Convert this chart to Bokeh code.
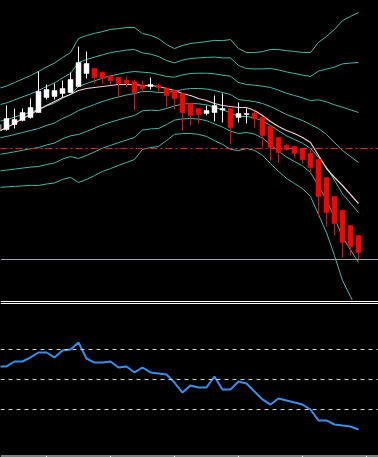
from bokeh.plotting import figure
from bokeh.layouts import column
from bokeh.models import Range1d, Span, ColumnDataSource
from bokeh.embed import file_html
from bokeh.resources import INLINE

# ---------------- data ----------------
idx = list(range(-1, 45))
open_ = [170, 171, 176, 180, 183, 188, 203, 204, 207, 208, 214, 227, 232, 228, 224, 223, 220, 219,
         215, 214, 215, 212, 210, 207, 197, 192, 187, 188, 190.5, 192, 183, 186, 187, 183, 174, 163,
         155, 154, 152, 147, 141, 123, 104, 90, 75, 65]
high = [180, 195, 192, 192, 202, 229, 216, 217, 220, 228, 254, 249, 232, 229, 225, 224, 224, 221,
        220, 223, 217, 213, 210, 207, 197, 192, 195, 205, 207, 192, 198, 192, 190, 184, 174, 163,
        157, 154, 152, 151, 141, 123, 104, 90, 75, 65]
low = [168, 170, 172, 179, 182, 188, 201, 201, 203, 208, 214, 222, 217, 216, 216, 203, 213, 190,
       208, 211, 208, 193, 191, 170, 175, 177, 185, 179, 178, 157, 178, 177, 173, 153, 140, 138,
       150, 143, 137, 127, 84, 74, 65, 43, 45, 40]
close = [176, 182, 181, 188, 193, 209, 211, 210, 212, 221, 238, 237, 223, 222, 220, 217, 217, 208,
         212, 216, 213, 205, 202, 188, 185, 186, 190, 195, 192, 173, 187, 187, 182, 165, 153, 148,
         151, 147, 141, 133, 104, 88, 77, 58, 54, 48]
ma_fast = [169, 173, 177, 182, 186, 191, 195, 199, 203, 206, 210, 212, 213, 214, 215, 216, 216, 216,
           215, 215, 214, 212, 210, 207, 205, 202, 200, 197, 195, 194, 193, 193, 190, 185, 179, 174,
           170, 167, 163, 158, 145, 132, 123, 115, 106, 97]

# Bollinger centre line and one-deviation width, read per candle
bb_mid = [162.5, 164, 166, 168, 170, 172, 175, 177.5, 182, 185.5, 190, 193, 196, 199, 201.5, 203.5,
          205.5, 207, 209, 209, 208, 208, 209, 211, 212, 212, 211.5, 210, 208, 206, 201, 200, 199,
          197, 194, 190, 186, 183, 180, 176, 172, 166, 158, 150, 144, 138]
bb_dev = [16.5, 16.8, 17.3, 17.8, 18.3, 19, 19.5, 20, 20.3, 20.8, 24, 24, 23.7, 23.3, 23.2, 22.8,
          22.5, 22, 19.3, 18.7, 18, 16, 14.3, 14.7, 15, 15.3, 15.8, 16.7, 17.3, 18.3, 17, 16, 16.3,
          17.3, 19, 20.3, 21.3, 22, 22.7, 24, 28.7, 32.7, 37.7, 43.3, 46.7, 50]
bb_mults = [3, 2, 1, 0, -1, -2, -3]

level_line = 152
support_line = 41

rsi = [58.7, 58.7, 62, 62, 64.7, 68, 68, 64.7, 69.3, 70, 74.7, 64, 61.3, 61.3, 62, 58, 58.7, 54.7,
       58, 54.7, 54, 53.3, 48, 41.3, 46, 44.7, 44.7, 52, 43.3, 43.3, 48.7, 47.3, 42, 36.7, 33.3,
       37.3, 36, 34.7, 33.3, 30, 22.7, 22.7, 20, 19.3, 18.7, 16.7]
rsi_levels = [70, 50, 30]
tick_idx = [5, 13, 21, 29, 37, 45]

# ---------------- styles ----------------
BG = "#000000"
BAND = "#46b8a6"
PINK = "#f6c9d2"
UP = "#ffffff"
DOWN = "#ff0000"

x_range = Range1d(-0.75, 46.5)

p = figure(width=378, height=300, x_range=x_range, y_range=Range1d(0, 300),
           output_backend="svg", toolbar_location=None, min_border=0,
           background_fill_color=BG, border_fill_color=BG, outline_line_color=None)
p.axis.visible = False
p.grid.visible = False

for k in bb_mults:
    p.line(idx, [m + k * d for m, d in zip(bb_mid, bb_dev)], line_color=BAND, line_width=1)

p.line(idx, ma_fast, line_color=PINK, line_width=1.2)

up_src = ColumnDataSource(dict(
    x=[i for i, o, c in zip(idx, open_, close) if c >= o],
    top=[c for o, c in zip(open_, close) if c >= o],
    bottom=[o for o, c in zip(open_, close) if c >= o],
    high=[h for o, c, h in zip(open_, close, high) if c >= o],
    low=[l for o, c, l in zip(open_, close, low) if c >= o]))
dn_src = ColumnDataSource(dict(
    x=[i for i, o, c in zip(idx, open_, close) if c < o],
    top=[o for o, c in zip(open_, close) if c < o],
    bottom=[c for o, c in zip(open_, close) if c < o],
    high=[h for o, c, h in zip(open_, close, high) if c < o],
    low=[l for o, c, l in zip(open_, close, low) if c < o]))

p.segment(x0="x", y0="high", x1="x", y1="low", source=up_src, line_color=UP, line_width=1)
p.vbar(x="x", top="top", bottom="bottom", width=0.62, source=up_src,
       fill_color=UP, line_color=UP, line_width=0.5)
p.segment(x0="x", y0="high", x1="x", y1="low", source=dn_src, line_color=DOWN, line_width=1)
p.vbar(x="x", top="top", bottom="bottom", width=0.62, source=dn_src,
       fill_color=DOWN, line_color=DOWN, line_width=0.5)

p.add_layout(Span(location=level_line, dimension="width", line_color="#e02424",
                  line_width=1, line_dash="7 3 2 3"))
p.add_layout(Span(location=support_line, dimension="width", line_color="#98a8b0",
                  line_width=1))

# ---------------- lower panel ----------------
q = figure(width=378, height=157, x_range=x_range, y_range=Range1d(-2, 102.67),
           output_backend="svg", toolbar_location=None, min_border=0,
           background_fill_color=BG, border_fill_color=BG, outline_line_color=None)
q.axis.visible = False
q.grid.visible = False

for lv in rsi_levels:
    q.add_layout(Span(location=lv, dimension="width", line_color="#d0d0d0",
                      line_width=1, line_dash="4 4"))
# panel separator (double rule) and bottom time rule with its ticks
q.add_layout(Span(location=102.0, dimension="width", line_color="#ffffff", line_width=1))
q.add_layout(Span(location=100.67, dimension="width", line_color="#ffffff", line_width=1))
q.add_layout(Span(location=-1.0, dimension="width", line_color="#ffffff", line_width=1))
q.segment(x0=tick_idx, y0=[-1.0] * len(tick_idx), x1=tick_idx, y1=[-2.0] * len(tick_idx),
          line_color="#ffffff", line_width=1)

q.line(idx, rsi, line_color="#3a8ee8", line_width=2)

layout = column(p, q, spacing=0)
layout.background = BG

open("out.html", "w").write(file_html(layout, INLINE))
